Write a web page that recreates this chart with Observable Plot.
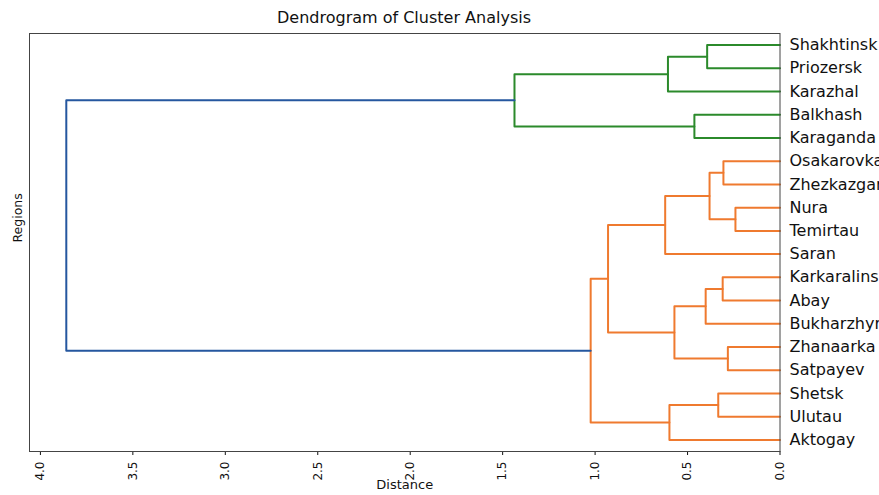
<!DOCTYPE html>
<html>
<head>
<meta charset="utf-8">
<script src="https://cdn.jsdelivr.net/npm/d3@7"></script>
<script src="https://cdn.jsdelivr.net/npm/@observablehq/plot@0.6"></script>
<style>
  html, body { margin: 0; padding: 0; background: #fff; overflow: hidden; }
  #title { width: 808px; height: 20px; padding-top: 8px; line-height: 20px; text-align: center;
           font-family: "DejaVu Sans", sans-serif; font-size: 16px; color: #111; }
</style>
</head>
<body>
<div id="title">Dendrogram of Cluster Analysis</div>
<div id="chart"></div>
<script>
// Leaves, top to bottom
const leaves = ["Shakhtinsk", "Priozersk", "Karazhal", "Balkhash", "Karaganda",
  "Osakarovka", "Zhezkazgan", "Nura", "Temirtau", "Saran",
  "Karkaralinsk", "Abay", "Bukharzhyrau", "Zhanaarka", "Satpayev",
  "Shetsk", "Ulutau", "Aktogay"];

// Linkage: child A, child B (ids: 0-17 leaves, 18+ merges in order), merge distance
const mergeA = [7, 13, 5, 10, 15, 20, 0, 21, 3, 25, 22, 24, 23, 30, 31, 29, 33];
const mergeB = [8, 14, 6, 11, 16, 18, 1, 12, 4, 19, 17, 2, 9, 27, 28, 26, 32];
const mergeDist = [0.241, 0.282, 0.306, 0.310, 0.334, 0.381, 0.394, 0.402, 0.463,
  0.571, 0.598, 0.606, 0.621, 0.930, 1.024, 1.436, 3.86];

const xTicks = [4.0, 3.5, 3.0, 2.5, 2.0, 1.5, 1.0, 0.5, 0.0];
const palette = ["#ef7a2f", "#2b8a2b"];   // cluster colours
const aboveColor = "#25579f";

const n = leaves.length;
const pos = {}, hgt = {};
leaves.forEach((d, i) => { pos[i] = i + 0.5; hgt[i] = 0; });
mergeA.forEach((a, k) => {
  const id = n + k;
  pos[id] = (pos[a] + pos[mergeB[k]]) / 2;
  hgt[id] = mergeDist[k];
});
const threshold = 0.7 * d3.max(mergeDist);

// cluster colours: maximal subtrees below threshold, assigned from the bottom up
const colorOf = {};
const clusterRoots = [];
mergeA.forEach((a, k) => {
  if (mergeDist[k] >= threshold) {
    [a, mergeB[k]].forEach(c => { if (c >= n && hgt[c] < threshold) clusterRoots.push(c); });
  }
});
clusterRoots.sort((p, q) => pos[q] - pos[p]);
function paint(id, col) {
  colorOf[id] = col;
  if (id >= n) { paint(mergeA[id - n], col); paint(mergeB[id - n], col); }
}
clusterRoots.forEach((r, i) => paint(r, palette[i % palette.length]));

const pts = [];
mergeA.forEach((a, k) => {
  const id = n + k, b = mergeB[k], h = mergeDist[k];
  const col = h >= threshold ? aboveColor : colorOf[id];
  pts.push({id, x: hgt[a], y: pos[a], c: col});
  pts.push({id, x: h, y: pos[a], c: col});
  pts.push({id, x: h, y: pos[b], c: col});
  pts.push({id, x: hgt[b], y: pos[b], c: col});
});

const hasAxisMark = typeof Plot.axisX === "function";
const xOpts = {domain: [4.059, 0], label: null};
if (!hasAxisMark) Object.assign(xOpts, {ticks: xTicks, tickFormat: d3.format(".1f"), tickRotate: -90, tickSize: 4, tickPadding: 6});

const chart = Plot.plot({
  width: 879,
  height: 467,
  marginTop: 5,
  marginBottom: 44,
  marginLeft: 29,
  marginRight: 99.5,
  style: {fontFamily: "DejaVu Sans, sans-serif", fontSize: "12px", color: "#111", background: "#fff", overflow: "visible"},
  x: xOpts,
  y: {domain: [0, n], reverse: true, axis: null},
  marks: [
    hasAxisMark ? Plot.axisX(xTicks, {anchor: "bottom", tickFormat: d3.format(".1f"), tickRotate: -90,
      tickSize: 4, tickPadding: 6, fontSize: 12, label: null}) : null,
    Plot.line(pts, {x: "x", y: "y", z: "id", stroke: "c", strokeWidth: 2, curve: "linear"}),
    Plot.frame({stroke: "#444", strokeWidth: 1}),
    Plot.text(leaves, {x: 0, y: (d, i) => i + 0.5, text: d => d, textAnchor: "start", dx: 9.5,
      fontSize: 16, fill: "#111"}),
    Plot.text(["Distance"], {frameAnchor: "bottom", text: d => d, dy: 37.5, fontSize: 13, fill: "#111"}),
    Plot.text(["Regions"], {frameAnchor: "left", text: d => d, rotate: -90, dx: -12, fontSize: 12.5, fill: "#111"})
  ]
});
document.getElementById("chart").appendChild(chart);
</script>
</body>
</html>
